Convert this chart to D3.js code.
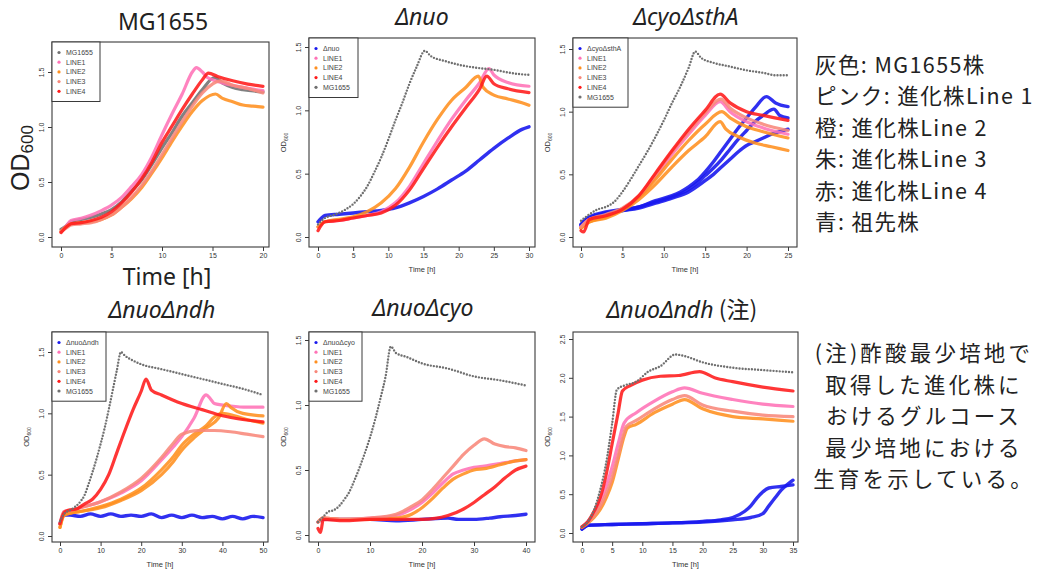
<!DOCTYPE html>
<html><head><meta charset="utf-8">
<script src="https://cdn.jsdelivr.net/npm/d3@7"></script>
<style>body{margin:0;background:#fff}svg{display:block}</style>
</head><body>
<svg id="c" width="1048" height="572"></svg>
<script>
// ---------- tick labels ----------
const xTicks1 = [0,5,10,15,20];
const xTicks2 = [0,5,10,15,20,25,30];
const xTicks3 = [0,5,10,15,20,25];
const xTicks4 = [0,10,20,30,40,50];
const xTicks5 = [0,10,20,30,40];
const xTicks6 = [0,5,10,15,20,25,30,35];
const yTicksA = [0,0.5,1.0,1.5];
const yTicksB = [0,0.5,1.0,1.5,2.0,2.5];

// ---------- panel titles / legends ----------
const titles = ["MG1655","Δnuo","ΔcyoΔsthA","ΔnuoΔndh","ΔnuoΔcyo","ΔnuoΔndh"];
const ancestorLabels = ["MG1655","Δnuo","ΔcyoΔsthA","ΔnuoΔndh","ΔnuoΔcyo",""];

// ---------- data: [time h, OD600] ----------
// Panel 1: MG1655
const p1_MG1655 = [[0,0.07],[0.5,0.1],[1,0.14],[2,0.16],[3,0.18],[4,0.21],[5,0.25],[6,0.32],[7,0.42],[8,0.52],[9,0.66],[10,0.81],[11,0.95],[12,1.10],[13,1.22],[14,1.34],[15.2,1.45],[16,1.40],[17,1.36],[18,1.34],[20,1.32]];
const p1_LINE1 = [[0,0.05],[0.5,0.1],[1,0.15],[2,0.17],[3,0.2],[4,0.24],[5,0.29],[6,0.36],[7,0.46],[8,0.57],[9,0.73],[10,0.93],[11,1.12],[12,1.3],[13,1.5],[13.4,1.54],[14,1.5],[14.5,1.45],[15,1.43],[16,1.4],[18,1.36],[20,1.33]];
const p1_LINE2 = [[0,0.05],[0.5,0.09],[1,0.12],[2,0.13],[3,0.14],[4,0.16],[5,0.2],[6,0.27],[7,0.35],[8,0.45],[9,0.58],[10,0.72],[11,0.87],[12,1.01],[13,1.14],[14,1.24],[15.3,1.3],[16,1.26],[17,1.23],[18,1.2],[19,1.19],[20,1.18]];
const p1_LINE3 = [[0,0.05],[0.5,0.08],[1,0.11],[2,0.12],[3,0.13],[4,0.16],[5,0.2],[6,0.27],[7,0.36],[8,0.47],[9,0.6],[10,0.75],[11,0.9],[12,1.05],[13,1.19],[14,1.31],[15.8,1.42],[17,1.38],[18.5,1.35],[20,1.31]];
const p1_LINE4 = [[0,0.04],[0.5,0.09],[1,0.12],[2,0.13],[3,0.15],[4,0.18],[5,0.23],[6,0.31],[7,0.41],[8,0.53],[9,0.68],[10,0.86],[11,1.01],[12,1.16],[13,1.3],[14,1.43],[14.6,1.49],[15.5,1.46],[17,1.42],[18.5,1.39],[20,1.37]];

// Panel 2: Δnuo
const p2_anc = [[0,0.12],[0.5,0.15],[1,0.17],[3,0.18],[5,0.19],[7,0.2],[9,0.21],[11,0.23],[13,0.27],[15,0.32],[17,0.38],[19,0.45],[21,0.52],[23,0.61],[25,0.7],[27,0.78],[29,0.85],[30,0.87]];
const p2_LINE1 = [[0,0.08],[1,0.12],[3,0.13],[5,0.15],[7,0.17],[9,0.2],[11,0.27],[13,0.4],[15,0.58],[17,0.76],[19,0.93],[21,1.08],[23,1.22],[24.3,1.33],[25,1.28],[27,1.22],[30,1.19]];
const p2_LINE2 = [[0,0.08],[1,0.12],[3,0.14],[5,0.16],[7,0.2],[9,0.27],[11,0.38],[13,0.55],[15,0.75],[17,0.93],[19,1.08],[21,1.18],[22.8,1.27],[23.5,1.18],[25,1.12],[27,1.09],[29,1.06],[30,1.04]];
const p2_LINE4 = [[0,0.05],[1,0.12],[3,0.13],[5,0.15],[7,0.17],[9,0.19],[11,0.25],[13,0.37],[15,0.54],[17,0.71],[19,0.87],[21,1.02],[23,1.17],[24,1.27],[25,1.21],[27,1.17],[30,1.14]];
const p2_MG1655 = [[0,0.1],[1,0.15],[2,0.17],[3,0.19],[4,0.22],[5,0.26],[6,0.32],[7,0.4],[8,0.51],[9,0.63],[10,0.77],[11,0.92],[12,1.06],[13,1.21],[14,1.34],[15.2,1.47],[16,1.43],[18,1.39],[20,1.36],[22,1.34],[25,1.32],[28,1.29],[30,1.28]];

// Panel 3: ΔcyoΔsthA
const p3_anc_a = [[0,0.1],[0.5,0.14],[1,0.16],[3,0.2],[5,0.22],[7,0.24],[9,0.29],[11,0.33],[12,0.36],[13,0.4],[14,0.45],[15,0.52],[16,0.6],[17,0.69],[18,0.78],[19,0.87],[20,0.95],[21,1.03],[22.4,1.12],[23.5,1.07],[25,1.04]];
const p3_anc_b = [[0,0.1],[1,0.15],[3,0.19],[5,0.21],[7,0.24],[9,0.28],[11,0.32],[13,0.38],[14,0.43],[15,0.49],[16,0.55],[17,0.62],[18,0.7],[19,0.78],[20,0.85],[21,0.92],[22,0.97],[23.3,1.02],[24,0.97],[25,0.95]];
const p3_anc_c = [[0,0.09],[1,0.14],[3,0.19],[5,0.21],[7,0.23],[9,0.27],[11,0.31],[13,0.36],[15,0.45],[16,0.5],[17,0.56],[18,0.62],[19,0.68],[20,0.73],[21,0.76],[22,0.79],[23,0.82],[24,0.84],[25,0.86]];
const p3_LINE1 = [[0,0.08],[1,0.14],[3,0.17],[5,0.22],[7,0.32],[9,0.48],[11,0.66],[13,0.82],[15,0.97],[16.8,1.08],[18,1.0],[20,0.92],[22,0.87],[25,0.82]];
const p3_LINE2 = [[0,0.07],[1,0.12],[3,0.15],[5,0.21],[7,0.3],[9,0.42],[11,0.56],[13,0.69],[15,0.8],[16.8,0.92],[17.5,0.86],[19,0.8],[21,0.75],[23,0.72],[25,0.69]];
const p3_LINE2b = [[0,0.07],[1,0.12],[3,0.16],[5,0.22],[7,0.32],[9,0.46],[11,0.62],[13,0.77],[15,0.9],[17,1.0],[18,0.95],[20,0.88],[22,0.84],[25,0.79]];
const p3_LINE3 = [[0,0.08],[1,0.14],[3,0.18],[5,0.23],[7,0.33],[9,0.5],[11,0.68],[13,0.84],[15,0.99],[16.9,1.1],[18,1.03],[20,0.95],[22,0.9],[25,0.85]];
const p3_LINE4 = [[0,0.05],[0.3,0.04],[1,0.14],[3,0.17],[5,0.22],[7,0.33],[9,0.51],[11,0.69],[13,0.86],[15,1.01],[16.8,1.14],[18,1.07],[20,1.0],[22,0.97],[25,0.93]];
const p3_MG1655 = [[0,0.13],[1,0.18],[2,0.22],[3,0.24],[4,0.28],[5,0.36],[6,0.46],[7,0.57],[8,0.68],[9,0.8],[10,0.93],[11,1.07],[12,1.2],[13,1.35],[13.8,1.48],[14.5,1.43],[16,1.39],[18,1.36],[20,1.33],[22,1.31],[23.5,1.29],[25,1.29]];

// Panel 4: ΔnuoΔndh
const p4_anc = [[0,0.1],[1,0.17],[2.5,0.17],[5,0.16],[7.5,0.18],[10,0.16],[12.5,0.18],[15,0.16],[17.5,0.17],[20,0.16],[22.5,0.18],[25,0.15],[27.5,0.17],[30,0.15],[32.5,0.17],[35,0.15],[37.5,0.16],[40,0.14],[42.5,0.16],[45,0.14],[47.5,0.16],[50,0.15]];
const p4_LINE1 = [[0,0.1],[1,0.2],[3,0.21],[5,0.23],[10,0.28],[15,0.35],[20,0.45],[25,0.62],[28,0.73],[30,0.81],[33,0.96],[36,1.15],[37,1.12],[38,1.08],[42,1.06],[46,1.05],[50,1.05]];
const p4_LINE2 = [[0,0.07],[1,0.17],[3,0.19],[5,0.2],[10,0.23],[15,0.29],[20,0.37],[25,0.5],[28,0.61],[30,0.7],[33,0.8],[36,0.88],[39,0.96],[41,1.08],[42,1.05],[45,1.0],[50,0.98]];
const p4_LINE2b = [[0,0.07],[1,0.17],[3,0.19],[5,0.2],[10,0.24],[15,0.3],[20,0.39],[25,0.54],[28,0.65],[30,0.74],[33,0.83],[36,0.9],[38,0.97],[40,1.0],[43,0.98],[46,0.95],[50,0.92]];
const p4_LINE3 = [[0,0.1],[1,0.2],[3,0.21],[5,0.23],[10,0.28],[15,0.36],[20,0.47],[25,0.64],[28,0.76],[30,0.83],[34,0.86],[38,0.86],[42,0.85],[46,0.83],[50,0.81]];
const p4_LINE4 = [[0,0.1],[1,0.19],[2,0.21],[4,0.22],[6,0.26],[8,0.3],[10,0.38],[12,0.5],[14,0.68],[16,0.86],[18,1.03],[20,1.18],[21.2,1.28],[22.5,1.19],[25,1.15],[30,1.08],[35,1.03],[40,0.98],[45,0.95],[50,0.93]];
const p4_MG1655 = [[0,0.12],[1,0.18],[3,0.22],[5,0.28],[6,0.33],[7,0.42],[8,0.52],[9,0.63],[10,0.75],[11,0.88],[12,1.03],[13,1.19],[14,1.35],[15,1.5],[16,1.47],[18,1.43],[20,1.4],[25,1.36],[30,1.32],[35,1.28],[40,1.24],[45,1.2],[50,1.15]];

// Panel 5: ΔnuoΔcyo
const p5_anc = [[0,0.1],[1,0.12],[5,0.12],[10,0.12],[15,0.11],[20,0.12],[25,0.13],[27,0.12],[30,0.12],[33,0.13],[35,0.14],[38,0.15],[40,0.16]];
const p5_LINE1 = [[0,0.1],[1,0.13],[5,0.12],[10,0.13],[15,0.15],[18,0.2],[20,0.25],[22,0.32],[24,0.4],[26,0.47],[28,0.5],[30,0.52],[32,0.53],[35,0.55],[38,0.57],[40,0.58]];
const p5_LINE2 = [[0,0.1],[1,0.13],[5,0.12],[10,0.12],[15,0.13],[18,0.16],[20,0.21],[22,0.28],[24,0.36],[26,0.43],[28,0.47],[30,0.5],[32,0.51],[35,0.54],[38,0.57],[40,0.58]];
const p5_LINE3 = [[0,0.1],[1,0.13],[5,0.12],[10,0.13],[15,0.16],[18,0.22],[20,0.27],[22,0.35],[24,0.44],[26,0.53],[28,0.62],[30,0.69],[32,0.74],[34,0.7],[36,0.68],[38,0.67],[40,0.65]];
const p5_LINE4 = [[0,0.05],[0.5,0.02],[1,0.12],[5,0.11],[10,0.12],[15,0.12],[20,0.12],[25,0.15],[28,0.2],[30,0.25],[32,0.31],[34,0.37],[36,0.44],[38,0.5],[40,0.53]];
const p5_MG1655 = [[0,0.1],[1,0.14],[2,0.18],[3,0.19],[4,0.22],[5,0.27],[6,0.33],[7,0.42],[8,0.52],[9,0.63],[10,0.75],[11,0.89],[12,1.05],[13,1.22],[14,1.45],[15,1.4],[17,1.37],[20,1.32],[25,1.28],[30,1.22],[35,1.19],[40,1.15]];

// Panel 6: ΔnuoΔndh (注)
const p6_anc_a = [[0,0.05],[1,0.1],[5,0.11],[10,0.12],[15,0.13],[20,0.15],[23,0.17],[25,0.2],[27,0.28],[28,0.35],[29,0.45],[30,0.53],[31,0.58],[33,0.6],[35,0.62]];
const p6_anc_b = [[0,0.05],[1,0.1],[5,0.11],[10,0.12],[15,0.13],[20,0.14],[25,0.17],[28,0.2],[30,0.25],[31,0.35],[32,0.45],[33,0.55],[34,0.62],[35,0.68]];
const p6_LINE1 = [[0,0.08],[1,0.15],[2,0.25],[3,0.4],[4,0.6],[5,0.85],[6,1.15],[7,1.42],[9,1.55],[12,1.7],[15,1.82],[17,1.87],[20,1.8],[25,1.72],[30,1.66],[35,1.63]];
const p6_LINE2 = [[0,0.07],[1,0.13],[2,0.2],[3,0.3],[4,0.45],[5,0.65],[6,0.95],[7,1.25],[7.5,1.35],[9,1.4],[12,1.55],[15,1.66],[17,1.72],[20,1.6],[25,1.5],[30,1.47],[35,1.44]];
const p6_LINE3 = [[0,0.08],[1,0.14],[2,0.22],[3,0.34],[4,0.5],[5,0.72],[6,1.0],[7,1.3],[7.3,1.37],[9,1.45],[12,1.6],[15,1.72],[17,1.77],[20,1.65],[25,1.57],[30,1.52],[35,1.5]];
const p6_LINE4 = [[0,0.08],[1,0.15],[2,0.28],[3,0.45],[4,0.75],[5,1.15],[6,1.55],[6.7,1.83],[8,1.9],[10,1.97],[13,2.02],[16,2.03],[19.5,2.08],[22,2.0],[25,1.95],[30,1.88],[35,1.83]];
const p6_MG1655 = [[0,0.08],[1,0.15],[2,0.3],[3,0.55],[4,0.9],[5,1.41],[5.8,1.85],[7,1.9],[9,1.95],[11,2.08],[13,2.15],[15.5,2.3],[17,2.28],[20,2.2],[25,2.13],[30,2.1],[35,2.07]];

// ---------- text blocks ----------
const keyLines = ["灰色: MG1655株","ピンク: 進化株Line 1","橙: 進化株Line 2","朱: 進化株Line 3","赤: 進化株Line 4","青: 祖先株"];
const noteLines = ["(注)酢酸最少培地で","取得した進化株に","おけるグルコース","最少培地における","生育を示している。"];

// ---------- styling ----------
const colors = {MG1655:"#707070", LINE1:"#ff72b6", LINE2:"#ff8f1f", LINE3:"#f8877a", LINE4:"#ff1a1a", anc:"#1a1aee"};

const panels = [
  {title:titles[0], note:false, box:[52,269,42,247], xr:[61,263], yr:[237,72], xTicks:xTicks1, yTicks:yTicksA, big:true,
   legend:[["MG1655","MG1655"],["LINE1","LINE1"],["LINE2","LINE2"],["LINE3","LINE3"],["LINE4","LINE4"]], legW:48,
   series:[["MG1655",p1_MG1655],["LINE1",p1_LINE1],["LINE2",p1_LINE2],["LINE3",p1_LINE3],["LINE4",p1_LINE4]]},
  {title:titles[1], note:false, box:[309,535,38,247], xr:[318,529], yr:[237,47], xTicks:xTicks2, yTicks:yTicksA,
   legend:[["anc",ancestorLabels[1]],["LINE1","LINE1"],["LINE2","LINE2"],["LINE4","LINE4"],["MG1655","MG1655"]], legW:49,
   series:[["anc",p2_anc],["LINE1",p2_LINE1],["LINE2",p2_LINE2],["LINE4",p2_LINE4],["MG1655",p2_MG1655]]},
  {title:titles[2], note:false, box:[573,797,38,247], xr:[581,788], yr:[237,49], xTicks:xTicks3, yTicks:yTicksA,
   legend:[["anc",ancestorLabels[2]],["LINE1","LINE1"],["LINE2","LINE2"],["LINE3","LINE3"],["LINE4","LINE4"],["MG1655","MG1655"]], legW:55,
   series:[["anc",p3_anc_a],["anc",p3_anc_b],["anc",p3_anc_c],["LINE1",p3_LINE1],["LINE2",p3_LINE2],["LINE2",p3_LINE2b],["LINE3",p3_LINE3],["LINE4",p3_LINE4],["MG1655",p3_MG1655]]},
  {title:titles[3], note:false, box:[52,268,332,542], xr:[60,263], yr:[536,352], xTicks:xTicks4, yTicks:yTicksA,
   legend:[["anc",ancestorLabels[3]],["LINE1","LINE1"],["LINE2","LINE2"],["LINE3","LINE3"],["LINE4","LINE4"],["MG1655","MG1655"]], legW:54,
   series:[["anc",p4_anc],["LINE1",p4_LINE1],["LINE2",p4_LINE2],["LINE2",p4_LINE2b],["LINE3",p4_LINE3],["LINE4",p4_LINE4],["MG1655",p4_MG1655]]},
  {title:titles[4], note:false, box:[309,535,332,542], xr:[318,526], yr:[535,340], xTicks:xTicks5, yTicks:yTicksA,
   legend:[["anc",ancestorLabels[4]],["LINE1","LINE1"],["LINE2","LINE2"],["LINE3","LINE3"],["LINE4","LINE4"],["MG1655","MG1655"]], legW:53,
   series:[["anc",p5_anc],["LINE1",p5_LINE1],["LINE2",p5_LINE2],["LINE3",p5_LINE3],["LINE4",p5_LINE4],["MG1655",p5_MG1655]]},
  {title:titles[5], note:true, box:[573,798,332,542], xr:[582,793], yr:[533,339], xTicks:xTicks6, yTicks:yTicksB,
   legend:null,
   series:[["anc",p6_anc_a],["anc",p6_anc_b],["LINE1",p6_LINE1],["LINE2",p6_LINE2],["LINE3",p6_LINE3],["LINE4",p6_LINE4],["MG1655",p6_MG1655]]}
];
const titlePos = [[163,30],[422,25],[686,25],[162,318],[423,316],[682,318]];

const svg = d3.select("#c");
const defs = svg.append("defs");
const TF = "'Noto Sans','Noto Sans CJK JP',sans-serif";

panels.forEach((p,i) => {
  const [L,R,T,B] = p.box;
  const x = d3.scaleLinear().domain([0, p.xTicks[p.xTicks.length-1]]).range(p.xr);
  const y = d3.scaleLinear().domain([0, p.yTicks[p.yTicks.length-1]]).range(p.yr);
  const g = svg.append("g");
  defs.append("clipPath").attr("id","clip"+i).append("rect").attr("x",L+1).attr("y",T+1).attr("width",R-L-2).attr("height",B-T-2);

  // series
  const line = d3.line().x(d=>x(d[0])).y(d=>y(d[1])).curve(d3.curveMonotoneX);
  const sg = g.append("g").attr("clip-path","url(#clip"+i+")");
  p.series.forEach(([k,data]) => {
    const path = sg.append("path").datum(data).attr("d",line).attr("fill","none")
      .attr("stroke",colors[k]).attr("stroke-linecap","round").attr("stroke-linejoin","round");
    if (k==="MG1655" && !p.big) {
      path.attr("stroke-width",2.4).attr("stroke-dasharray","0 3.1");
    } else if (k==="anc") {
      path.attr("stroke-width",3.4).attr("stroke-opacity",0.9);
    } else {
      path.attr("stroke-width",3.2).attr("stroke-opacity",0.88);
    }
  });

  // box
  g.append("rect").attr("x",L).attr("y",T).attr("width",R-L).attr("height",B-T)
    .attr("fill","none").attr("stroke","#3a3a3a").attr("stroke-width",1.1);

  // axes
  const ax = g.append("g").attr("transform",`translate(0,${B})`)
    .call(d3.axisBottom(x).tickValues(p.xTicks).tickSize(4).tickPadding(2).tickFormat(d3.format("d")));
  ax.select(".domain").remove();
  ax.selectAll("line").attr("stroke","#3a3a3a");
  ax.selectAll("text").attr("font-size",7).attr("font-family","'Liberation Sans',Arial,sans-serif").attr("fill","#333");

  const ay = g.append("g").attr("transform",`translate(${L},0)`)
    .call(d3.axisLeft(y).tickValues(p.yTicks).tickSize(4).tickFormat(d3.format(".1f")));
  ay.select(".domain").remove();
  ay.selectAll("line").attr("stroke","#3a3a3a");
  ay.selectAll("text").attr("x",0).attr("dy",0).attr("text-anchor","middle")
    .attr("transform","translate(-8,0) rotate(-90)")
    .attr("font-size",7).attr("font-family","'Liberation Sans',Arial,sans-serif").attr("fill","#333");

  // axis titles
  if (p.big) {
    svg.append("text").attr("x",167).attr("y",285).attr("text-anchor","middle")
      .attr("font-family",TF).attr("font-size",23).attr("fill","#222").text("Time [h]");
    const od = svg.append("text").attr("transform","translate(29,158) rotate(-90)").attr("text-anchor","middle")
      .attr("font-family","'Liberation Sans',Arial,sans-serif").attr("font-size",25).attr("fill","#222");
    od.append("tspan").text("OD");
    od.append("tspan").attr("font-size",17).attr("dy",4).text("600");
  } else {
    svg.append("text").attr("x",(L+R)/2).attr("y",B+25).attr("text-anchor","middle")
      .attr("font-family","'Liberation Sans',Arial,sans-serif").attr("font-size",7.5).attr("fill","#333").text("Time [h]");
    const od = svg.append("text").attr("transform",`translate(${L-23},${(T+B)/2}) rotate(-90)`).attr("text-anchor","middle")
      .attr("font-family","'Liberation Sans',Arial,sans-serif").attr("font-size",7.5).attr("fill","#333");
    od.append("tspan").text("OD");
    od.append("tspan").attr("font-size",5).attr("dy",1.5).text("600");
  }

  // legend
  if (p.legend) {
    const n = p.legend.length, h = 11 + n*9.7;
    const lg = g.append("g");
    lg.append("rect").attr("x",L).attr("y",T).attr("width",p.legW).attr("height",h)
      .attr("fill","#fff").attr("stroke","#3a3a3a").attr("stroke-width",1);
    p.legend.forEach(([k,label],j) => {
      const yy = T + 10.5 + j*9.7;
      lg.append("circle").attr("cx",L+7).attr("cy",yy).attr("r",1.6).attr("fill",colors[k]);
      lg.append("text").attr("x",L+14).attr("y",yy+2.5).attr("font-size",7)
        .attr("font-family","'Liberation Sans',Arial,sans-serif").attr("fill","#444").text(label);
    });
  }

  // title
  const [tx,ty] = titlePos[i];
  const tt = svg.append("text").attr("x",tx).attr("y",ty).attr("text-anchor","middle")
    .attr("font-family",TF).attr("font-size",23).attr("fill","#222");
  tt.append("tspan").attr("font-style", p.big ? "normal" : "italic").text(p.title);
  if (p.note) tt.append("tspan").attr("font-family","'Noto Sans CJK JP',sans-serif").text(" (注)");
});

// key text
const JF = "'Noto Sans CJK JP','Noto Sans',sans-serif";
keyLines.forEach((s,j) => {
  svg.append("text").attr("x",815).attr("y",73 + j*31.4).attr("font-family",JF).attr("font-size",21.5)
    .attr("letter-spacing",1.4).attr("fill","#222").text(s);
});
noteLines.forEach((s,j) => {
  svg.append("text").attr("x",924).attr("y",361 + j*31.5).attr("text-anchor","middle").attr("font-family",JF)
    .attr("font-size",21.5).attr("letter-spacing",3.2).attr("fill","#222").text(s);
});
</script>
</body></html>
